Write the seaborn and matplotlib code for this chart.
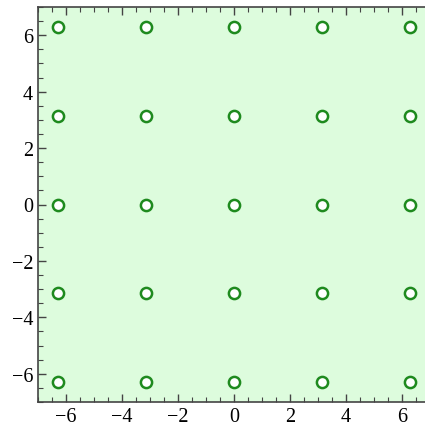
import numpy as np
import pandas as pd
import matplotlib
matplotlib.use("Agg")
import matplotlib.pyplot as plt
import seaborn as sns
from matplotlib.ticker import MultipleLocator

grid_vals = [-2*np.pi, -np.pi, 0.0, np.pi, 2*np.pi]
xs = [x for x in grid_vals for _ in grid_vals]
ys = [y for _ in grid_vals for y in grid_vals]
df = pd.DataFrame({"x": xs, "y": ys})

sns.set_style("ticks")
plt.rcParams["font.family"] = ["Liberation Serif", "DejaVu Serif"]

fig = plt.figure(figsize=(4.25, 4.27), dpi=100)
ax = fig.add_axes([38/425, 24/427, 1 - 38/425, (403-8)/427])
ax.set_facecolor("#ddfcdd")
sns.scatterplot(data=df, x="x", y="y", ax=ax, marker="o", s=65,
                facecolor="white", edgecolor="#1e8a1e", linewidth=1.8, zorder=3)
ax.set_xlim(-7, 6.82)
ax.set_ylim(-7, 7)
ax.set_xlabel("")
ax.set_ylabel("")
ax.xaxis.set_major_locator(MultipleLocator(2))
ax.xaxis.set_minor_locator(MultipleLocator(0.5))
ax.yaxis.set_major_locator(MultipleLocator(2))
ax.yaxis.set_minor_locator(MultipleLocator(0.5))
ax.tick_params(which="both", direction="in", top=True, right=False, colors="#444444",
               labelcolor="black", labelsize=14.5)
ax.tick_params(which="major", length=6, width=1)
ax.tick_params(which="minor", length=3.5, width=0.8)
for s in ["left", "bottom", "top"]:
    ax.spines[s].set_color("#444444")
    ax.spines[s].set_linewidth(1.2)
ax.spines["right"].set_visible(False)
fig.savefig("out.png", dpi=100)
